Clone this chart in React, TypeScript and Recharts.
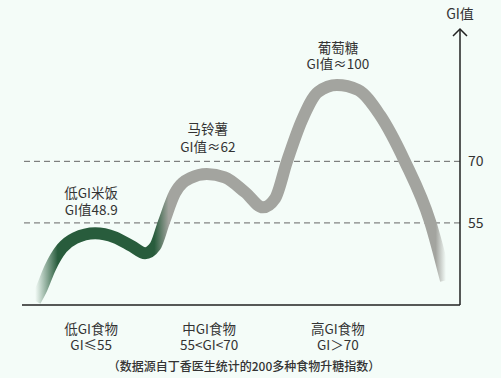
import React from 'react';
import {
    LineChart,
    Line,
    XAxis,
    YAxis,
    ReferenceLine,
    ReferenceDot,
} from 'recharts';

// curve through the three example foods (x = position along the axis, 0-100)
const curveX = [3.0, 4.3, 6.4, 9.1, 12.1, 16.7, 21.2, 25.1, 28.1, 30.4, 32.4, 34.9, 38.4, 42.2, 46.3, 50.9, 55.0, 57.8, 60.5, 63.9, 67.6, 71.9, 76.7, 81.7, 87.4, 93.2, 96.8];
const curveGI = [36.0, 38.6, 44.0, 48.8, 51.3, 52.5, 51.5, 49.3, 47.6, 49.3, 55.2, 62.2, 65.9, 66.9, 66.1, 62.5, 58.8, 61.0, 70.0, 80.0, 86.9, 88.6, 87.4, 81.3, 70.0, 55.2, 41.0];

const peakIndex = [5, 13, 21];
const peakNames = ['低GI米饭', '马铃薯', '葡萄糖'];
const peakValues = ['GI值48.9', 'GI值≈62', 'GI值≈100'];

const categoryX = [15.8, 42.7, 72.1];
const categoryNames = ['低GI食物', '中GI食物', '高GI食物'];
const categoryRanges = ['GI≤55', '55<GI<70', 'GI＞70'];

const thresholds = [55, 70];

const data = curveX.map((x, i) => ({ x, gi: curveGI[i] }));

const FONT = '"Noto Sans CJK SC", "Noto Sans", sans-serif';
const TEXT = '#333';
const GREEN = '#285c3c';
const GRAY = '#a3a49f';
const BG = '#f4fcf8';
const FS = 13.5;

// label line offsets above each peak [dx, dy1, dy2]
const peakOffsets = [[-4, -41, -24], [1, -46, -28], [1, -38, -22]];

const CategoryTick = (props: any) => {
    const { x, y, payload } = props;
    const i = categoryX.indexOf(payload.value);
    return (
        <g>
            <text x={x} y={y + 15} textAnchor="middle" dominantBaseline="central" fontSize={FS} fill={TEXT} fontFamily={FONT}>
                {categoryNames[i]}
            </text>
            <text x={x} y={y + 31} textAnchor="middle" dominantBaseline="central" fontSize={FS} fill={TEXT} fontFamily={FONT}>
                {categoryRanges[i]}
            </text>
        </g>
    );
};

export default function App() {
    return (
        <div style={{ position: 'fixed', left: 0, top: 0, width: 501, height: 378, background: BG }}>
            <LineChart width={501} height={378} data={data} margin={{ top: 30, right: 0, bottom: 0, left: 22 }}>
                <defs>
                    <linearGradient id="giStroke" x1="0" y1="0" x2="1" y2="0">
                        <stop offset="0" stopColor={GREEN} stopOpacity={0} />
                        <stop offset="0.025" stopColor={GREEN} stopOpacity={0.45} />
                        <stop offset="0.055" stopColor={GREEN} stopOpacity={1} />
                        <stop offset="0.29" stopColor={GREEN} stopOpacity={1} />
                        <stop offset="0.325" stopColor={GRAY} stopOpacity={1} />
                        <stop offset="0.975" stopColor={GRAY} stopOpacity={1} />
                        <stop offset="1" stopColor={GRAY} stopOpacity={0} />
                    </linearGradient>
                </defs>
                <XAxis
                    dataKey="x"
                    type="number"
                    domain={[0, 100]}
                    ticks={categoryX}
                    tick={<CategoryTick />}
                    tickLine={false}
                    height={73}
                    axisLine={{ stroke: '#222', strokeWidth: 1.5 }}
                />
                <YAxis
                    orientation="right"
                    type="number"
                    domain={[35, 102]}
                    ticks={thresholds}
                    tickLine={false}
                    width={41}
                    axisLine={{ stroke: '#222', strokeWidth: 1.5 }}
                    tick={{ fill: TEXT, fontSize: 14, fontFamily: FONT }}
                />
                {thresholds.map((t) => (
                    <ReferenceLine key={t} y={t} stroke="#666" strokeDasharray="6 4" strokeWidth={1} />
                ))}
                <Line
                    type="monotone"
                    dataKey="gi"
                    stroke="url(#giStroke)"
                    strokeWidth={12}
                    dot={false}
                    activeDot={false}
                    isAnimationActive={false}
                />
                {peakIndex.map((idx, i) => (
                    <ReferenceDot
                        key={idx}
                        x={curveX[idx]}
                        y={curveGI[idx]}
                        r={0}
                        shape={(p: any) => (
                            <g>
                                <text x={p.cx + peakOffsets[i][0]} y={p.cy + peakOffsets[i][1]} textAnchor="middle" dominantBaseline="central" fontSize={FS} fill={TEXT} fontFamily={FONT}>
                                    {peakNames[i]}
                                </text>
                                <text x={p.cx + peakOffsets[i][0]} y={p.cy + peakOffsets[i][2]} textAnchor="middle" dominantBaseline="central" fontSize={FS} fill={TEXT} fontFamily={FONT}>
                                    {peakValues[i]}
                                </text>
                            </g>
                        )}
                    />
                ))}
                <ReferenceDot
                    x={100}
                    y={102}
                    r={0}
                    shape={(p: any) => (
                        <g>
                            <path d={`M${p.cx - 7},${p.cy + 6} L${p.cx},${p.cy - 1} L${p.cx + 7},${p.cy + 6}`} stroke="#222" strokeWidth={1.5} fill="none" />
                            <text x={p.cx} y={p.cy - 17} textAnchor="middle" dominantBaseline="central" fontSize={14} fill={TEXT} fontFamily={FONT}>
                                GI值
                            </text>
                        </g>
                    )}
                />
            </LineChart>
            <div style={{ position: 'absolute', left: 0, width: 488, top: 356, textAlign: 'center', fontSize: 12, lineHeight: '20px', color: TEXT, fontFamily: FONT, fontWeight: 500 }}>
                （数据源自丁香医生统计的200多种食物升糖指数）
            </div>
        </div>
    );
}
